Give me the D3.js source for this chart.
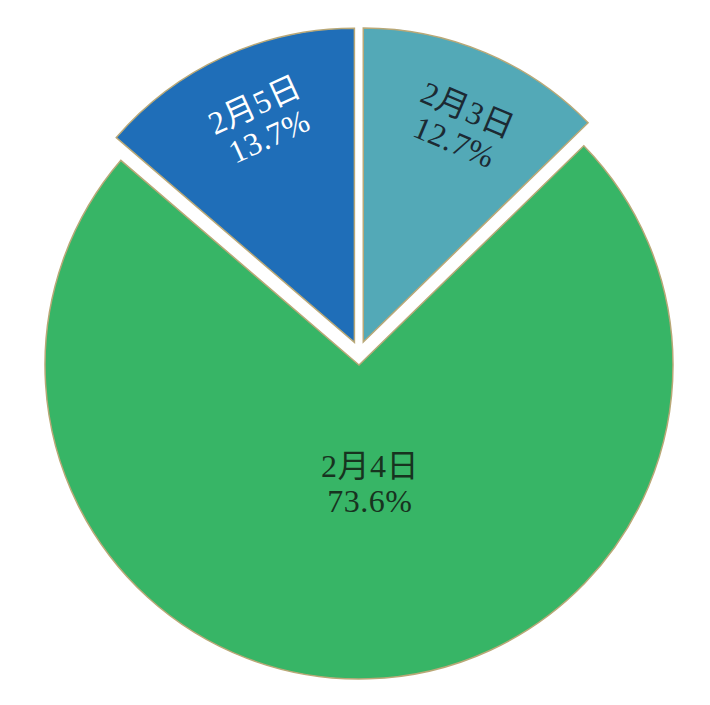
<!DOCTYPE html>
<html><head><meta charset="utf-8">
<script src="https://cdn.jsdelivr.net/npm/d3@7"></script>
<style>html,body{margin:0;padding:0;background:#fff;}svg{display:block;}</style>
</head><body>
<svg id="c" width="710" height="705"></svg>
<script>
const categories = ["2月3日", "2月4日", "2月5日"];
const values = [12.7, 73.6, 13.7];
const colors = ["#53a9b7", "#37b566", "#1f6eb8"];
const labelColors = ["#1c2a33", "#17331f", "#ffffff"];
const exploded = [true, false, true];

const svg = d3.select("#c");
const cx = 359, cy = 365, R = 314;
const g = svg.append("g").attr("transform", `translate(${cx},${cy})`);

const pie = d3.pie().sort(null).value(d => d.v);
const arcs = pie(categories.map((c, i) => ({c, v: values[i], i})));
const arc = d3.arc().innerRadius(0).outerRadius(R);

const explodeX = 11, explodeY = 25;
function offset(d) {
  if (!exploded[d.data.i]) return [0, 0];
  const m = (d.startAngle + d.endAngle) / 2;
  return [Math.sin(m) * explodeX, -Math.cos(m) * explodeY];
}

const slice = g.selectAll("g.slice").data(arcs).join("g")
  .attr("class", "slice")
  .attr("transform", d => { const o = offset(d); return `translate(${o[0]},${o[1]})`; });

slice.append("path")
  .attr("d", arc)
  .attr("fill", d => colors[d.data.i])
  .attr("stroke", "#b9a877")
  .attr("stroke-width", 1.5)
  .attr("stroke-linejoin", "miter");

const labelRadius = [0.76, 0.375, 0.77];
const labelShift = [1.5, -3.5, 2];
slice.each(function(d) {
  const i = d.data.i;
  const m = (d.startAngle + d.endAngle) / 2;
  const ma = m + labelShift[i] * Math.PI / 180;
  const r = R * labelRadius[i];
  const x = Math.sin(ma) * r, y = -Math.cos(ma) * r;
  let rot = m * 180 / Math.PI;
  if (rot > 90 && rot < 270) rot -= 180;
  if (rot >= 270) rot -= 360;
  if (i === 1) rot = 0;
  const t = d3.select(this).append("text")
    .attr("transform", `translate(${x},${y}) rotate(${rot})`)
    .attr("text-anchor", "middle")
    .attr("fill", labelColors[i])
    .style("font-family", "'Liberation Serif','DejaVu Serif','Noto Sans CJK JP',serif")
    .style("font-size", "32px")
    .style("letter-spacing", "0.5px");
  t.append("tspan").attr("x", 0).attr("dy", "-0.15em").text(categories[i]);
  t.append("tspan").attr("x", 0).attr("dy", "1.08em").text(values[i].toFixed(1) + "%");
});
</script>
</body></html>
